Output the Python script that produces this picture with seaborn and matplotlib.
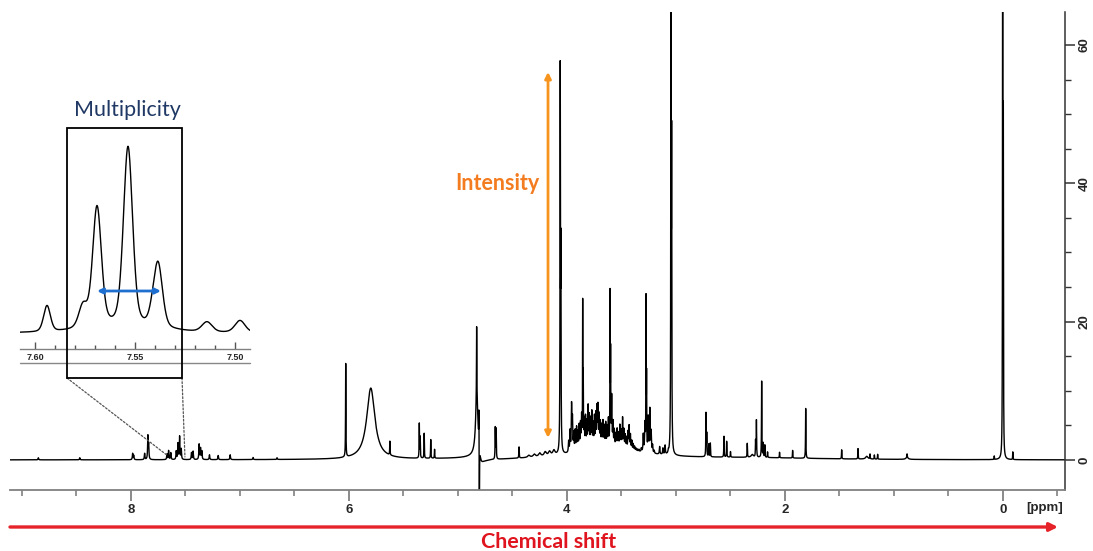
import numpy as np
import pandas as pd
import matplotlib
matplotlib.use("Agg")
import matplotlib.pyplot as plt
import seaborn as sns
from matplotlib.lines import Line2D
from matplotlib.patches import Rectangle, ConnectionPatch, FancyArrowPatch
from matplotlib.ticker import FixedLocator

# ---------------- peak tables: chemical shift (ppm) and height ----------------
aromatic_ppm = [8.85, 8.47, 7.985, 7.975, 7.875, 7.845, 7.838, 7.670, 7.655, 7.635,
                7.585, 7.569, 7.554, 7.539, 7.445, 7.430, 7.375, 7.362, 7.350, 7.280,
                7.200, 7.090, 6.880, 6.660]
aromatic_height = [0.3, 0.3, 0.9, 0.6, 0.9, 3.3, 2.0, 0.8, 1.3, 1.0,
                   1.2, 2.3, 3.3, 1.5, 1.0, 1.2, 2.2, 1.6, 1.2, 0.7,
                   0.6, 0.7, 0.3, 0.25]

olefinic_ppm = [6.030, 5.625, 5.355, 5.347, 5.310, 5.250, 5.215]
olefinic_height = [13.5, 2.0, 5.0, 3.0, 3.6, 2.7, 1.3]

# residual water: absorptive lines plus a small dispersive tail
water_ppm = [4.829, 4.808, 4.804]
water_height = [10.0, 5.5, -12.0]
water_disp_ppm = [4.800]
water_disp_amp = [0.9]
water_disp_hwhm = [0.017]

sugar_ppm = [4.658, 4.650, 4.440, 4.062, 4.056]
sugar_height = [4.5, 4.3, 1.6, 54.2, 27.3]

# low, rounded bumps on the baseline
lump_ppm = [4.350, 4.300, 4.250, 4.200, 4.160, 4.120, 2.300, 1.250, 0.880]
lump_height = [0.3, 0.4, 0.5, 0.6, 0.6, 0.7, 0.4, 0.4, 0.3]

forest_ppm = [3.985, 3.972, 3.958, 3.950, 3.938, 3.925, 3.912, 3.900, 3.888, 3.876,
              3.866, 3.842, 3.830, 3.818, 3.806, 3.795, 3.783, 3.772,
              3.760, 3.748, 3.736, 3.725, 3.716, 3.705, 3.694, 3.682, 3.670, 3.658,
              3.645, 3.632, 3.620, 3.590, 3.578, 3.566, 3.552, 3.540,
              3.528, 3.515, 3.503, 3.490, 3.478, 3.466, 3.454, 3.440, 3.430, 3.418,
              3.405, 3.392, 3.380, 3.368, 3.355, 3.340, 3.318, 3.300, 3.285,
              3.255, 3.240, 3.228, 3.215, 3.200, 3.150, 3.120, 3.100, 3.070]
forest_height = [1.6, 3.0, 6.6, 4.5, 2.5, 2.9, 3.3, 2.6, 3.5, 3.6,
                 4.6, 4.0, 4.5, 3.7, 5.9, 4.5, 4.0, 5.0,
                 3.3, 4.3, 4.6, 5.4, 5.6, 4.4, 3.4, 3.0, 3.6, 2.9,
                 3.4, 2.8, 3.9, 7.1, 3.4, 2.4, 1.9, 2.6,
                 2.0, 3.2, 2.4, 4.3, 2.6, 1.9, 1.6, 2.4, 3.3, 2.1,
                 1.3, 0.9, 0.6, 0.4, 0.3, 0.3, 0.5, 2.5, 3.9,
                 5.0, 6.2, 3.0, 1.1, 0.4, 1.1, 0.9, 1.3, 0.4]

# tall lines standing out of the 3.2-4.0 ppm envelope
major_ppm = [3.856, 3.851, 3.605, 3.600, 3.275, 3.270]
major_height = [20.5, 9.5, 21.8, 12.5, 22.0, 10.0]

aliphatic_ppm = [3.046, 3.040, 2.725, 2.718, 2.700, 2.685, 2.560, 2.535, 2.500, 2.346,
                 2.270, 2.262, 2.214, 2.200, 2.185, 2.160, 2.050, 1.930, 1.810, 1.480,
                 1.330, 1.220, 1.180, 1.150, 0.880]
aliphatic_height = [90.0, 41.0, 6.3, 3.2, 1.8, 2.0, 3.0, 2.3, 0.8, 2.0,
                    2.3, 5.3, 11.0, 2.0, 1.8, 0.8, 0.8, 1.1, 7.2, 1.3,
                    1.5, 0.7, 0.6, 0.7, 0.5]

reference_ppm = [0.080, 0.003, -0.003, -0.090]
reference_height = [0.5, 90.0, 47.0, 1.1]

# broad components: exchangeable signal, water foot, macromolecular humps
broad_ppm = [5.800, 4.828, 3.620, 2.300]
broad_height = [10.3, 8.5, 1.6, 0.25]
broad_hwhm = [0.045, 0.012, 0.40, 0.80]

# zoomed multiplet (arbitrary units)
inset_ppm = [7.594, 7.576, 7.569, 7.5535, 7.5415, 7.5385, 7.514, 7.4975, 7.555]
inset_height = [26, 22, 120, 178, 6, 64, 10, 12, 7]
inset_hwhm = [0.002, 0.0025, 0.0026, 0.0027, 0.002, 0.0026, 0.003, 0.003, 0.02]

x_tick_values = [8, 6, 4, 2, 0]
x_tick_labels = ["8", "6", "4", "2", "0"]
y_tick_values = [0, 20, 40, 60]
y_tick_labels = ["0", "20", "40", "60"]
inset_tick_values = [7.60, 7.55, 7.50]
inset_tick_labels = ["7.60", "7.55", "7.50"]


def lorentz(x, x0, h, w):
    return h / (1.0 + ((x - x0) / w) ** 2)


def dispersion(x, x0, a, w):
    d = x - x0
    return a * 2.0 * d * w / (d ** 2 + w ** 2)


def pseudo_voigt(x, x0, h, w, eta=0.3):
    g = np.exp(-np.log(2.0) * ((x - x0) / w) ** 2)
    return h * (eta / (1.0 + ((x - x0) / w) ** 2) + (1.0 - eta) * g)


# ---------------- build spectra ----------------
ppm = np.arange(9.12, -0.58, -0.0004)
spec = np.zeros_like(ppm)
groups = [
    (aromatic_ppm, aromatic_height, 0.003),
    (olefinic_ppm, olefinic_height, 0.0018),
    (water_ppm, water_height, 0.0015),
    (sugar_ppm, sugar_height, 0.002),
    (lump_ppm, lump_height, 0.012),
    (forest_ppm, forest_height, 0.003),
    (major_ppm, major_height, 0.0015),
    (aliphatic_ppm, aliphatic_height, 0.0018),
    (reference_ppm, reference_height, 0.0015),
]
for pos, hts, w in groups:
    for p, h in zip(pos, hts):
        spec += lorentz(ppm, p, h, w)
for p, h, w in zip(broad_ppm, broad_height, broad_hwhm):
    spec += lorentz(ppm, p, h, w)
for p, a, w in zip(water_disp_ppm, water_disp_amp, water_disp_hwhm):
    spec += dispersion(ppm, p, a, w)
main_df = pd.DataFrame({"ppm": ppm, "intensity": spec})

ippm = np.arange(7.6075, 7.4925, -0.0001)
ispec = np.zeros_like(ippm)
for p, h, w in zip(inset_ppm, inset_height, inset_hwhm):
    ispec += pseudo_voigt(ippm, p, h, w)
inset_df = pd.DataFrame({"ppm": ippm, "intensity": ispec})

# ---------------- figure ----------------
sns.set_theme(style="white")
plt.rcParams["font.family"] = ["Liberation Sans", "DejaVu Sans"]

W, H = 1093, 551
fig = plt.figure(figsize=(W / 100, H / 100), dpi=100)
fig.patch.set_facecolor("white")


def px_axes(left, top, right, bottom):
    return fig.add_axes([left / W, 1 - bottom / H, (right - left) / W, (bottom - top) / H])


def fx(x):
    return x / W


def fy(y):
    return 1 - y / H


ax = px_axes(10, 12, 1065, 490)
ax.patch.set_alpha(0)
sns.lineplot(data=main_df, x="ppm", y="intensity", ax=ax, color="black",
             linewidth=1.0, estimator=None, sort=False)
ax.set_xlim(9.11, -0.569)
ax.set_ylim(-4.337, 64.77)
ax.set_xlabel("")
ax.set_ylabel("")

for side in ("top", "left"):
    ax.spines[side].set_visible(False)
ax.spines["bottom"].set_color("#808080")
ax.spines["bottom"].set_linewidth(1.3)
ax.spines["right"].set_color("#333333")
ax.spines["right"].set_linewidth(1.1)

ax.set_xticks(x_tick_values)
ax.set_xticklabels(x_tick_labels, fontweight="bold", fontsize=9.5)
ax.xaxis.set_minor_locator(FixedLocator(np.arange(-0.5, 9.01, 0.5)))
ax.tick_params(axis="x", which="major", direction="out", length=8, width=1.2,
               color="#777777", pad=2, bottom=True)
ax.tick_params(axis="x", which="minor", direction="out", length=4.5, width=1.1,
               color="#777777", bottom=True)

ax.yaxis.set_ticks_position("right")
ax.set_yticks(y_tick_values)
ax.set_yticklabels(y_tick_labels, fontweight="bold", fontsize=9.5, rotation=90,
                   va="center")
ax.yaxis.set_minor_locator(FixedLocator(np.arange(0, 64, 5)))
ax.tick_params(axis="y", which="major", direction="out", length=7, width=1.1,
               color="#333333", pad=3, right=True, left=False)
ax.tick_params(axis="y", which="minor", direction="out", length=4, width=1.0,
               color="#333333", right=True, left=False)

fig.text(fx(1045), fy(508), "[ppm]", ha="center", va="center",
         fontsize=9.5, fontweight="bold")

# intensity arrow
ax.annotate("", xy=(4.174, 3.2), xytext=(4.174, 56.1),
            arrowprops=dict(arrowstyle="<|-|>", color="#F7941D", lw=2,
                            mutation_scale=9, shrinkA=0, shrinkB=0))
fig.text(fx(497), fy(183), "Intensity", ha="center", va="center", color="#F47C20",
         fontsize=15.5, fontweight="bold", family=["Lato", "DejaVu Sans"])

# chemical shift arrow
fig.add_artist(FancyArrowPatch((fx(10), fy(527)), (fx(1058), fy(527)),
                               transform=fig.transFigure, arrowstyle="-|>",
                               color="#E52329", lw=2.4, mutation_scale=12,
                               shrinkA=0, shrinkB=0))
fig.text(fx(549), fy(542), "Chemical shift", ha="center", va="center",
         color="#E0141E", fontsize=15.4, fontweight="bold",
         family=["Lato", "DejaVu Sans"])

# ---------------- zoomed multiplet ----------------
axi = px_axes(20, 128, 250, 349)
axi.patch.set_alpha(0)
sns.lineplot(data=inset_df, x="ppm", y="intensity", ax=axi, color="black",
             linewidth=1.0, estimator=None, sort=False)
axi.set_xlim(7.6075, 7.4925)
axi.set_ylim(-16, 205)
axi.set_xlabel("")
axi.set_ylabel("")
for side in ("top", "left", "right"):
    axi.spines[side].set_visible(False)
axi.spines["bottom"].set_color("#808080")
axi.spines["bottom"].set_linewidth(1.0)
axi.set_yticks([])
axi.set_xticks(inset_tick_values)
axi.set_xticklabels(inset_tick_labels, fontweight="bold", fontsize=6.5)
axi.xaxis.set_minor_locator(FixedLocator(np.arange(7.49, 7.611, 0.01)))
axi.tick_params(axis="x", which="major", direction="in", length=5, width=1.0,
                color="#555555", pad=3, bottom=True)
axi.tick_params(axis="x", which="minor", direction="in", length=3, width=1.0,
                color="#555555", bottom=True)
fig.add_artist(Line2D([fx(20), fx(250)], [fy(363), fy(363)], color="#888888", lw=1.0))

fig.add_artist(Rectangle((fx(67), fy(378)), fx(182) - fx(67), fy(128) - fy(378),
                         transform=fig.transFigure, fill=False, ec="black", lw=1.3,
                         zorder=5))
fig.add_artist(FancyArrowPatch((fx(97), fy(291)), (fx(161), fy(291)),
                               transform=fig.transFigure, arrowstyle="<|-|>",
                               color="#1F6FD0", lw=2, mutation_scale=8,
                               shrinkA=0, shrinkB=0, zorder=6))
fig.text(fx(127), fy(110), "Multiplicity", ha="center", va="center",
         color="#1F3864", fontsize=15.5, family=["Lato", "DejaVu Sans"])

for fxy, dxy in (((fx(67), fy(378)), (7.67, 0.7)), ((fx(182), fy(378)), (7.505, 0.45))):
    fig.add_artist(ConnectionPatch(xyA=fxy, coordsA=fig.transFigure, xyB=dxy,
                                   coordsB=ax.transData, color="#555555", lw=0.9,
                                   linestyle=(0, (1.5, 1.5))))

fig.savefig("out.png", dpi=100, facecolor="white")
